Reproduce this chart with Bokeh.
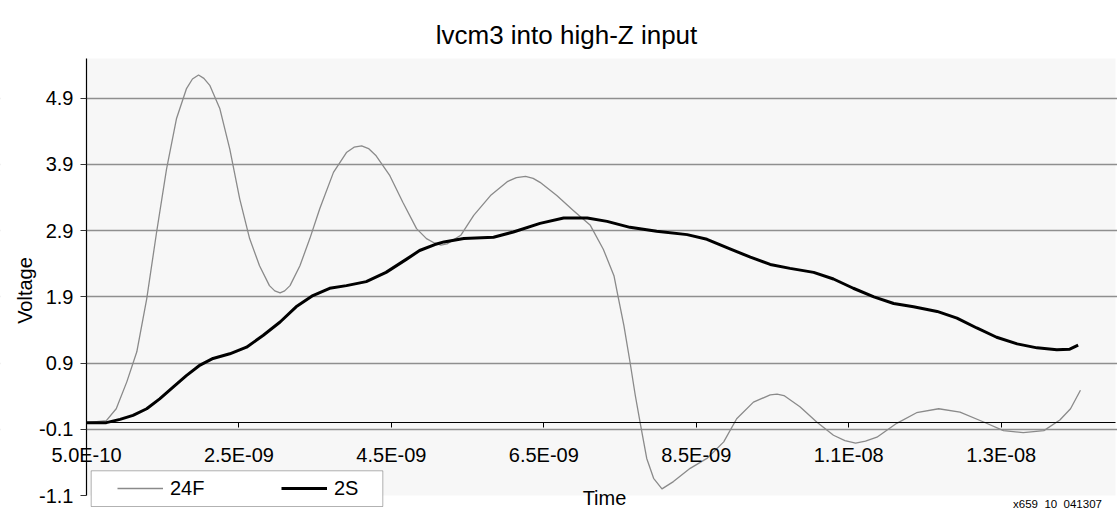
from math import pi

from bokeh.plotting import figure
from bokeh.models import (Range1d, FixedTicker, Label, LabelSet, Legend,
                          LegendItem, BoxAnnotation, ColumnDataSource)
from bokeh.core.properties import value
from bokeh.embed import file_html
from bokeh.resources import INLINE

# ---------------- data ----------------
title_text = "lvcm3 into high-Z input"
x_label = "Time"
y_label = "Voltage"
note_text = "x659_10_041307"
series_names = ["24F", "2S"]

# time in ns
t_24f = [0.50, 0.76, 0.89, 1.03, 1.16, 1.29, 1.42, 1.55, 1.68, 1.81, 1.89,
         1.97, 2.04, 2.12, 2.25, 2.38, 2.51, 2.64, 2.77, 2.90, 2.97, 3.04,
         3.10, 3.17, 3.30, 3.43, 3.56, 3.74, 3.91, 4.01, 4.11, 4.20, 4.30,
         4.48, 4.65, 4.83, 4.96, 5.07, 5.15, 5.23, 5.41, 5.58, 5.80, 6.02,
         6.14, 6.26, 6.36, 6.45, 6.67, 6.89, 7.11, 7.28, 7.42, 7.48, 7.55,
         7.63, 7.70, 7.77, 7.85, 7.94, 8.05, 8.20, 8.42, 8.64, 8.86, 9.03,
         9.25, 9.47, 9.56, 9.65, 9.86, 10.08, 10.30, 10.45, 10.59, 10.72,
         10.87, 11.13, 11.39, 11.68, 11.96, 12.27, 12.53, 12.79, 13.06,
         13.27, 13.41, 13.54]
v_24f = [0.00, 0.03, 0.21, 0.62, 1.07, 1.87, 2.88, 3.83, 4.59, 5.04, 5.19,
         5.25, 5.20, 5.09, 4.74, 4.13, 3.38, 2.78, 2.37, 2.07, 1.99, 1.96,
         1.99, 2.07, 2.37, 2.78, 3.23, 3.78, 4.08, 4.16, 4.18, 4.14, 4.03,
         3.73, 3.33, 2.93, 2.78, 2.71, 2.68, 2.70, 2.83, 3.13, 3.43, 3.64,
         3.70, 3.72, 3.69, 3.63, 3.43, 3.20, 2.98, 2.62, 2.22, 1.87, 1.47,
         0.92, 0.41, -0.04, -0.54, -0.84, -1.00, -0.89, -0.69, -0.54, -0.29,
         0.06, 0.31, 0.42, 0.43, 0.41, 0.24, 0.01, -0.19, -0.27, -0.31,
         -0.28, -0.22, -0.01, 0.15, 0.21, 0.16, 0.01, -0.12, -0.15, -0.12,
         0.04, 0.21, 0.49]

t_2s = [0.50, 0.76, 0.94, 1.11, 1.29, 1.46, 1.64, 1.81, 1.99, 2.16, 2.38,
        2.60, 2.82, 3.04, 3.25, 3.47, 3.69, 3.91, 4.17, 4.43, 4.70, 4.87,
        5.07, 5.19, 5.45, 5.84, 6.10, 6.45, 6.76, 7.07, 7.33, 7.63, 7.98,
        8.38, 8.64, 8.95, 9.21, 9.47, 9.73, 10.04, 10.30, 10.56, 10.83,
        11.09, 11.35, 11.66, 11.92, 12.18, 12.44, 12.71, 12.97, 13.23,
        13.40, 13.51]
v_2s = [0.00, 0.00, 0.05, 0.11, 0.21, 0.36, 0.54, 0.71, 0.87, 0.97, 1.04,
        1.14, 1.32, 1.52, 1.75, 1.92, 2.03, 2.07, 2.13, 2.27, 2.47, 2.60,
        2.69, 2.73, 2.78, 2.80, 2.88, 3.01, 3.09, 3.09, 3.04, 2.95, 2.89,
        2.84, 2.77, 2.62, 2.50, 2.39, 2.33, 2.27, 2.17, 2.03, 1.90, 1.80,
        1.75, 1.68, 1.58, 1.43, 1.29, 1.19, 1.13, 1.10, 1.11, 1.17]

x_min, x_max = 0.5, 14.0
y_min, y_max = -1.1, 5.5
x_ticks = [0.5, 2.5, 4.5, 6.5, 8.5, 10.5, 12.5]
x_tick_labels = ["5.0E-10", "2.5E-09", "4.5E-09", "6.5E-09", "8.5E-09",
                 "1.1E-08", "1.3E-08"]
y_ticks = [-1.1, -0.1, 0.9, 1.9, 2.9, 3.9, 4.9]
y_tick_labels = ["-1.1", "-0.1", "0.9", "1.9", "2.9", "3.9", "4.9"]

# ---------------- layout (pixels) ----------------
W, H = 1117, 508
PL, PR, PT, PB = 86, 1115, 58, 495      # plot area edges on the canvas
sx = (PR - PL) / (x_max - x_min)
sy = (PB - PT) / (y_max - y_min)
x_start = x_min - PL / sx
x_end = x_max + (W - PR) / sx
y_start = y_min - (H - PB) / sy
y_end = y_max + PT / sy

FONT = "Liberation Sans"
TXT = "20px"

p = figure(width=W, height=H, output_backend="svg",
           toolbar_location=None, tools="", title=None,
           x_range=Range1d(x_start, x_end), y_range=Range1d(y_start, y_end),
           min_border=0)
p.outline_line_color = None
p.background_fill_color = "white"
p.border_fill_color = "white"

# plot-area background, below the grid
bg = BoxAnnotation(left=x_min, right=x_max, bottom=y_min, top=y_max,
                   fill_color="#f7f7f7", fill_alpha=1.0, line_color=None,
                   level="underlay")
p.center = [bg] + list(p.center)

# grid
p.xgrid.visible = False
p.ygrid.ticker = FixedTicker(ticks=y_ticks[1:])
p.ygrid.grid_line_color = "#8f8f8f"
p.ygrid.grid_line_width = 1.5

# hide grid lines left of the plot area
mask = BoxAnnotation(left=x_start - 1, right=x_min,
                     bottom=y_start - 1, top=y_end + 1,
                     fill_color="white", fill_alpha=1.0,
                     line_color=None, level="underlay")
p.center = list(p.center) + [mask]

# x axis crossing at 0
xa = p.xaxis[0]
xa.fixed_location = 0
xa.bounds = (x_min, x_max)
xa.ticker = FixedTicker(ticks=x_ticks)
xa.major_label_overrides = dict(zip(x_ticks, x_tick_labels))
xa.axis_line_color = "black"
xa.axis_line_width = 1
xa.major_tick_in = 0
xa.major_tick_out = 5
xa.major_tick_line_color = "black"
xa.minor_tick_out = 0
xa.minor_tick_in = 0
xa.major_label_standoff = 16
xa.major_label_text_font = FONT
xa.major_label_text_font_size = TXT
xa.major_label_text_color = "black"

# y axis on the left edge of the plot area (line + ticks)
ya = p.yaxis[0]
ya.fixed_location = x_min
ya.bounds = (y_min, y_max)
ya.ticker = FixedTicker(ticks=y_ticks)
ya.major_label_overrides = {t: "" for t in y_ticks}
ya.axis_line_color = "black"
ya.axis_line_width = 1.2
ya.major_tick_in = 0
ya.major_tick_out = 6
ya.major_tick_line_color = "#333333"
ya.major_tick_line_width = 1
ya.minor_tick_out = 0
ya.minor_tick_in = 0

# y tick labels, placed next to the ticks
ylab_src = ColumnDataSource(dict(x=[x_min] * len(y_ticks), y=y_ticks,
                                 text=y_tick_labels))
p.add_layout(LabelSet(x="x", y="y", text="text", source=ylab_src,
                      x_offset=-13, text_align="right",
                      text_baseline="middle", text_font=value(FONT),
                      text_font_size=TXT, text_color="black"))

# series
r1 = p.line(t_24f, v_24f, line_color="#8a8a8a", line_width=1.3,
            line_join="round")
r2 = p.line(t_2s, v_2s, line_color="black", line_width=3,
            line_join="round")

# legend box + legend (screen units from canvas bottom-left)
box = BoxAnnotation(left=90.7, right=382.3, bottom=2, top=37.7,
                    left_units="screen", right_units="screen",
                    top_units="screen", bottom_units="screen",
                    fill_color="white", fill_alpha=1.0,
                    line_color="black", line_width=1)
p.add_layout(box)

legend = Legend(items=[LegendItem(label=series_names[0], renderers=[r1]),
                       LegendItem(label=series_names[1], renderers=[r2])],
                location=(117, 8.5), orientation="horizontal",
                padding=0, spacing=0, margin=0,
                glyph_width=46, glyph_height=22,
                label_width=111, label_height=22, label_standoff=7,
                border_line_alpha=0, background_fill_alpha=0,
                label_text_font=FONT, label_text_font_size=TXT,
                label_text_color="black")
p.add_layout(legend)

# texts
p.add_layout(Label(x=566, y=H - 34, x_units="screen", y_units="screen",
                   text=title_text, text_align="center",
                   text_baseline="alphabetic", text_font=FONT,
                   text_font_size="26px", text_color="black"))
p.add_layout(Label(x=24, y=H - 290, x_units="screen", y_units="screen",
                   text=y_label, angle=pi / 2, text_align="center",
                   text_baseline="middle", text_font=FONT,
                   text_font_size=TXT, text_color="black"))
p.add_layout(Label(x=604, y=H - 497, x_units="screen", y_units="screen",
                   text=x_label, text_align="center",
                   text_baseline="alphabetic", text_font=FONT,
                   text_font_size=TXT, text_color="black"))
p.add_layout(Label(x=1057, y=H - 503, x_units="screen", y_units="screen",
                   text=note_text, text_align="center",
                   text_baseline="alphabetic", text_font=FONT,
                   text_font_size="11.5px", text_color="black"))

open("out.html", "w").write(file_html(p, INLINE))
